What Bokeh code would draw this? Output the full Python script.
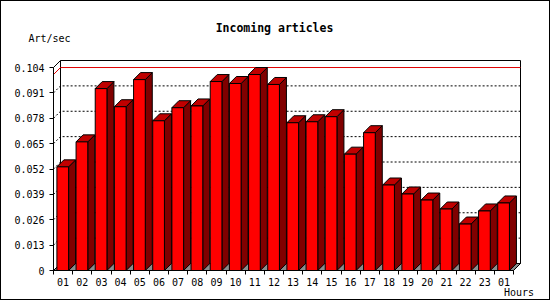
from bokeh.plotting import figure
from bokeh.models import Range1d, FixedTicker, Label
from bokeh.embed import file_html
from bokeh.resources import INLINE

# ---- data ----
hours = ["01", "02", "03", "04", "05", "06", "07", "08", "09", "10", "11", "12",
         "13", "14", "15", "16", "17", "18", "19", "20", "21", "22", "23", "01"]
rates = [0.0531, 0.0659, 0.0932, 0.0839, 0.0978, 0.0767, 0.0834, 0.0843,
         0.0968, 0.0958, 0.1004, 0.0953, 0.0757, 0.0762, 0.0788, 0.0596,
         0.0706, 0.0438, 0.0392, 0.0361, 0.0315, 0.0238, 0.0305, 0.0346]
y_ticks = [0, 0.013, 0.026, 0.039, 0.052, 0.065, 0.078, 0.091, 0.104]
y_tick_labels = ["0", "0.013", "0.026", "0.039", "0.052", "0.065", "0.078", "0.091", "0.104"]
title_text = "Incoming articles"
y_title = "Art/sec"
x_title = "Hours"

# ---- geometry (pixels) ----
W, H = 550, 300
FL, FR, FT, FB = 50, 522, 58, 272      # frame edges
X0, Y0 = 53, 270                       # pixel position of data origin (front)
N = len(rates)
SX = (513 - X0) / N                    # px per hour slot
YMAX = y_ticks[-1]
SY = (Y0 - 67) / YMAX                  # px per unit
DEPTH = 7                              # 3D depth in px
DX = DEPTH / SX
DY = DEPTH / SY
BAR_OFF = 3.4 / SX
BAR_W = 11.7 / SX

FONT = "DejaVu Sans Mono"

p = figure(width=W, height=H, title=None,
           x_range=Range1d((FL - X0) / SX, (FR - X0) / SX),
           y_range=Range1d((Y0 - FB) / SY, (Y0 - FT) / SY),
           min_border_left=FL, min_border_right=W - FR,
           min_border_top=FT, min_border_bottom=H - FB,
           toolbar_location=None, output_backend="svg",
           border_fill_color=None, background_fill_color="white",
           outline_line_color=None,
           styles={"background-color": "white",
                   "box-shadow": "inset 0 0 0 1px #000000"})
p.xgrid.visible = False
p.ygrid.visible = False

# ---- axes ----
xa = p.xaxis[0]
xa.ticker = FixedTicker(ticks=[k + 0.5 for k in range(N)],
                        minor_ticks=[k for k in range(N + 1)])
xa.major_label_overrides = {k + 0.5: hours[k] for k in range(N)}
xa.axis_line_color = None
xa.major_tick_in = 0
xa.major_tick_out = 0
xa.minor_tick_in = 2
xa.minor_tick_out = 2
xa.minor_tick_line_color = "black"
xa.major_label_standoff = 3
xa.major_label_text_font = FONT
xa.major_label_text_font_size = "10px"
xa.major_label_text_color = "black"

ya = p.yaxis[0]
ya.ticker = FixedTicker(ticks=y_ticks, minor_ticks=[])
ya.major_label_overrides = {v: s for v, s in zip(y_ticks, y_tick_labels)}
ya.axis_line_color = None
ya.major_tick_in = 3
ya.major_tick_out = 1
ya.major_tick_line_color = "black"
ya.major_label_standoff = 5
ya.major_label_text_font = FONT
ya.major_label_text_font_size = "10px"
ya.major_label_text_color = "black"

# ---- back wall ----
p.quad(left=DX, right=N + DX, bottom=DY, top=YMAX + DY,
       fill_color="white", line_color="black", line_width=1)

# grid lines (dotted) on back and left walls
gx, gy = [], []
for v in y_ticks[1:-1]:
    gx.append([0, DX, N + DX])
    gy.append([v, v + DY, v + DY])
p.multi_line(xs=gx, ys=gy, line_color="black", line_width=1, line_dash="2 2")

# maximum line
m = max(rates)
p.line(x=[0, DX, N + DX], y=[m, m + DY, m + DY], line_color="#e00000", line_width=1)

# floor
p.patch(x=[0, N, N + DX, DX], y=[0, 0, DY, DY],
        fill_color="#8c8c8c", line_color="black", line_width=1)

# left wall edges
p.line(x=[0, 0, DX], y=[0, YMAX, YMAX + DY], line_color="black", line_width=1)

# ---- bars ----
lefts = [k + BAR_OFF for k in range(N)]
rights = [l + BAR_W for l in lefts]
side_xs = [[r, r + DX, r + DX, r] for r in rights]
side_ys = [[0, DY, v + DY, v] for v in rates]
top_xs = [[l, r, r + DX, l + DX] for l, r in zip(lefts, rights)]
top_ys = [[v, v, v + DY, v + DY] for v in rates]

p.patches(xs=side_xs, ys=side_ys, fill_color="#800000", line_color="black", line_width=1)
p.patches(xs=top_xs, ys=top_ys, fill_color="#c00000", line_color="black", line_width=1)
p.quad(left=lefts, right=rights, bottom=0, top=rates,
       fill_color="#ff0000", line_color="black", line_width=1)

# front x-axis line
p.line(x=[0, N], y=[0, 0], line_color="black", line_width=1)

# ---- texts (placed in the side panel so they are not clipped to the frame) ----
def px_x(px):
    return (px - X0) / SX

def px_y(py):
    return (Y0 - py) / SY

p.add_layout(Label(x=px_x(274), y=px_y(27.5), text=title_text, text_font=FONT,
                   text_font_size="11.5px", text_font_style="bold",
                   text_align="center", text_baseline="middle", text_color="black"), "above")
p.add_layout(Label(x=px_x(28), y=px_y(37.5), text=y_title, text_font=FONT,
                   text_font_size="10px", text_align="left",
                   text_baseline="middle", text_color="black"), "above")
p.add_layout(Label(x=px_x(503.5), y=px_y(292), text=x_title, text_font=FONT,
                   text_font_size="10px", text_align="left",
                   text_baseline="middle", text_color="black"), "above")

open("out.html", "w").write(file_html(p, INLINE))
